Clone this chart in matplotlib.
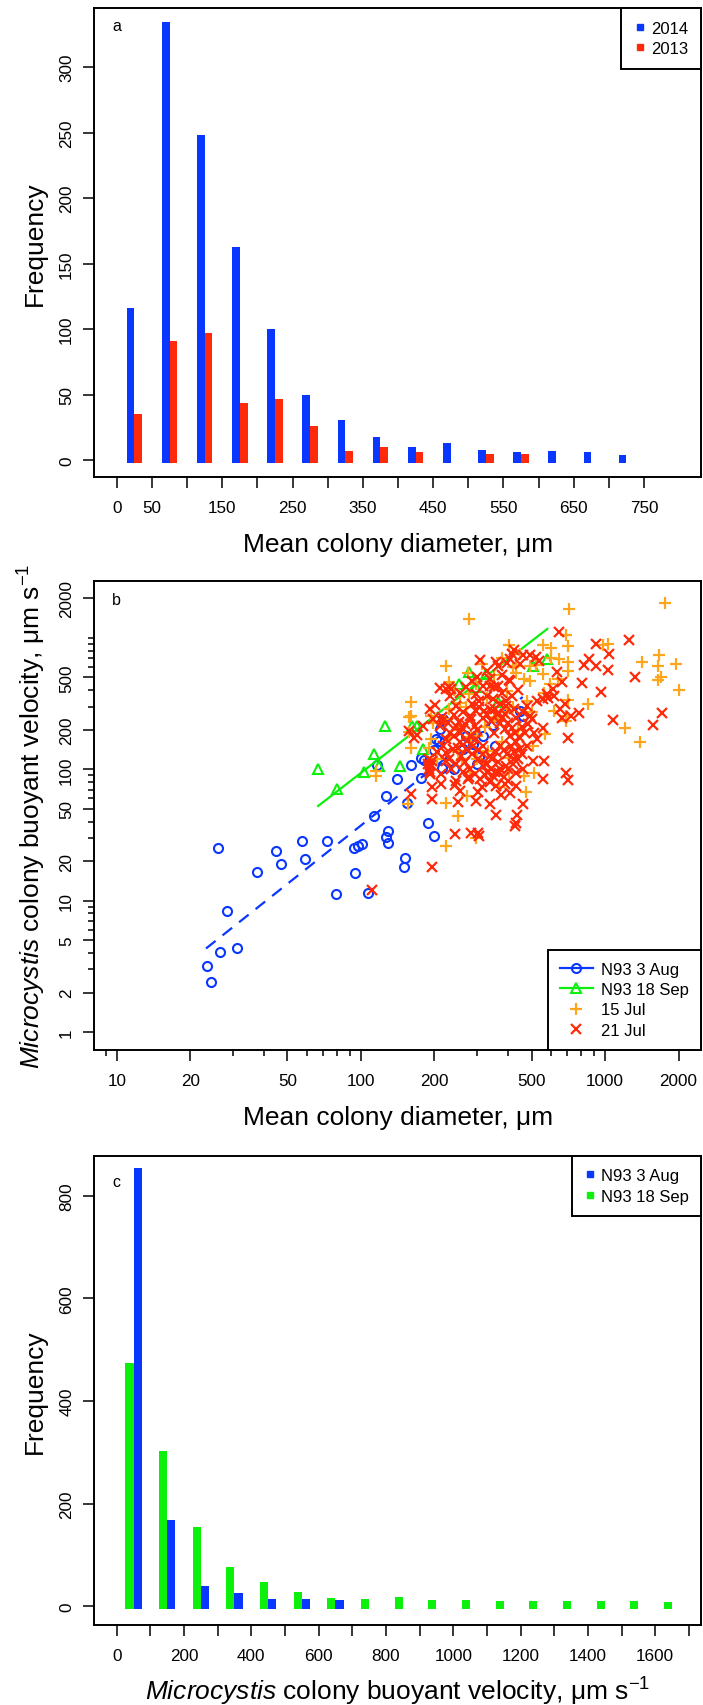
import matplotlib
matplotlib.use("Agg")
import matplotlib.pyplot as plt
from matplotlib.lines import Line2D
import numpy as np

plt.rcParams['font.family'] = ['Liberation Sans', 'DejaVu Sans']
plt.rcParams['mathtext.fontset'] = 'custom'
plt.rcParams['mathtext.rm'] = 'Liberation Sans'
plt.rcParams['mathtext.it'] = 'Liberation Sans:italic'
plt.rcParams['axes.linewidth'] = 1.4

BLUE = '#0a37ff'
RED = '#ff2a0a'
GREEN = '#0cf00c'
ORANGE = '#ffa51c'

# ---- panel a: colony diameter histogram (bins of 50 um)
diam_bins = [25, 75, 125, 175, 225, 275, 325, 375, 425, 475, 525, 575, 625, 675, 725]
n_2014 = [116, 334, 248, 163, 100, 50, 31, 18, 10, 13, 8, 6, 7, 6, 4]
n_2013 = [35, 91, 97, 44, 47, 26, 7, 10, 6, 0, 5, 5, 0, 0, 0]

# ---- panel b: buoyant velocity vs diameter
aug_d = [23.4, 24.4, 26, 26.5, 28.4, 31.2, 37.7, 45, 47, 57.6, 59, 72.5, 78.8, 94, 94.6, 97, 101,
         106.6, 113.6, 116, 127, 127, 129.5, 129.5, 140, 150, 152, 155, 161, 176, 177, 181, 187.5,
         200, 200, 203, 208, 210, 214, 216, 241, 263, 270, 287, 299, 306, 317, 346, 355, 448, 460]
aug_v = [3.2, 2.4, 25, 4.1, 8.3, 4.4, 16.5, 24, 19, 28.7, 20.8, 28.4, 11.3, 25, 16.4, 26, 27,
         11.5, 44.4, 108, 63, 30.5, 34, 27.5, 84, 18, 21, 55, 108, 123, 86, 118, 39,
         31, 141, 170, 165, 203, 103, 241, 100, 142, 180, 155, 110, 124, 180, 216, 151, 279, 255]

sep_d = [66.9, 79.6, 103.4, 113.6, 119, 125, 144, 162, 169, 179, 252, 276, 297, 324, 364, 508, 579]
sep_v = [100, 71, 95, 130, 106, 214, 106, 214, 214, 142, 444, 546, 420, 530, 326, 613, 689]

jul15_d = [277, 713, 1766, 224, 405, 557, 601, 689, 703, 646, 707, 703, 1031, 985, 1656, 1642,
           1415, 1945, 1650, 1690, 2010, 1205, 1386, 851, 689, 569, 505, 474, 465, 512, 405, 367,
           249, 224, 224, 295, 273, 249, 160, 160, 157, 160, 156, 115, 115, 193, 197, 229, 254,
           314, 323, 365, 397, 432, 491, 593, 501, 703, 689, 397, 277, 297, 405, 332, 282, 229,
           275, 338, 492, 558, 643, 194, 157, 430, 465,
           250, 300, 350, 420, 260, 380, 300, 440, 220, 330, 270, 480, 240, 600, 380, 450, 420,
           350, 520, 280, 205, 190, 620, 560, 230]
jul15_v = [1390, 1660, 1850, 611, 890, 890, 834, 1057, 861, 692, 650, 556, 900, 880, 736, 611,
           650, 630, 480, 500, 400, 206, 160, 313, 232, 187, 150, 67, 89, 94, 95, 73,
           44, 26, 55, 30, 63, 137, 327, 255, 193, 145, 54, 89, 97, 255, 225, 289, 317,
           630, 211, 232, 271, 539, 611, 447, 271, 337, 255, 394, 371, 447, 121, 137, 175, 175,
           545, 444, 471, 528, 486, 169, 250, 615, 487,
           200, 180, 250, 300, 120, 160, 120, 200, 240, 350, 300, 330, 400, 700, 700, 750, 600,
           520, 620, 95, 120, 145, 280, 380, 460]

jul21_d = [646, 1256, 919, 1039, 859, 823, 919, 1031, 1328, 966, 1074, 1575, 1713, 782, 703, 695,
           703, 562, 460, 432, 428, 357, 338, 301, 283, 305, 244, 195, 111, 160, 170, 195, 195,
           193, 191, 213, 254, 295, 301, 314, 321, 367, 388, 491, 512, 620, 586, 523, 491, 460,
           414, 423, 307, 365, 405, 229, 201, 214,
           802, 558, 434, 242, 210, 235, 407, 338,
           408, 359, 395, 448, 538, 634, 665, 614, 576, 558, 525, 655, 685, 728, 665, 477, 462,
           500, 433, 422, 394, 380, 364, 337, 317, 297, 306, 327, 348, 370, 284, 254, 224, 231,
           246, 263, 279, 297, 317, 337, 360, 370, 388, 408, 433, 448, 477, 558, 525, 422, 394,
           364, 337, 317, 297, 279, 263, 246, 231, 224, 217, 224, 238, 254, 270, 284, 301, 317,
           327, 348, 370, 401, 433, 462, 508, 433, 408, 375, 359, 337, 246, 195, 210, 191, 197,
           180, 158, 165, 250, 274, 279, 266, 257, 224, 235, 190, 192, 189, 190,
           215, 228, 240, 252, 268, 282, 292, 305, 318, 330, 342, 355, 368, 378, 390, 402, 415,
           428, 445, 455, 470, 485, 240, 255, 272, 288, 302, 315, 330, 345, 358, 372, 385, 398,
           410, 425, 440, 455, 230, 245, 262, 278, 292, 308, 325, 340, 355, 385, 400, 418, 205,
           212, 250, 298, 350, 392, 415, 440, 380, 330, 300, 270, 285, 350]
jul21_v = [1105, 957, 900, 760, 692, 623, 611, 574, 507, 390, 237, 218, 268, 268, 172, 94,
           83, 115, 54, 39, 37, 45, 54, 33, 33, 31, 32, 18, 12, 65, 181, 73, 59,
           108, 95, 77, 68, 57, 67, 73, 91, 94, 78, 255, 189, 359, 349, 714, 736, 736,
           760, 809, 683, 611, 476, 420, 307, 232,
           457, 84, 45, 76, 419, 407, 471, 434,
           690, 652, 640, 632, 671, 546, 458, 408, 373, 341, 331, 287, 313, 255, 247, 304, 271,
           240, 247, 287, 304, 384, 431, 487, 431, 373, 331, 364, 341, 313, 313, 384, 408, 364,
           304, 271, 255, 279, 247, 287, 263, 227, 202, 180, 160, 142, 151, 208, 170, 119, 106,
           113, 126, 151, 170, 180, 202, 214, 190, 170, 151, 134, 142, 160, 142, 130, 119, 106,
           96, 89, 100, 82, 94, 100, 116, 75, 66, 64, 75, 80, 82, 115, 214, 287, 240,
           214, 195, 172, 56, 84, 100, 113, 126, 116, 100, 100, 92, 110, 120,
           250, 225, 260, 230, 220, 240, 215, 300, 280, 260, 235, 290, 270, 245, 265, 225, 205,
           190, 175, 210, 190, 220, 180, 190, 165, 150, 140, 130, 110, 120, 135, 150, 140, 130,
           150, 135, 120, 130, 120, 110, 95, 88, 92, 85, 110, 100, 95, 88, 100, 110, 135,
           92, 145, 200, 190, 330, 360, 400, 520, 560, 500, 420, 470, 420]

# fitted lines (end points)
aug_fit_d = [23.2, 460]
aug_fit_v = [4.33, 355]
sep_fit_d = [66.8, 580]
sep_fit_v = [52.6, 1170]

# ---- panel c: buoyant velocity histogram (bins of 100)
vel_bins = [50, 150, 250, 350, 450, 550, 650, 750, 850, 950, 1050, 1150, 1250, 1350, 1450, 1550, 1650]
n_aug = [855, 169, 40, 26, 14, 14, 12, 0, 0, 0, 0, 0, 0, 0, 0, 0, 0]
n_sep = [474, 302, 154, 76, 47, 27, 16, 14, 18, 12, 12, 10, 11, 10, 10, 10, 9]

W, H = 703, 1706
fig = plt.figure(figsize=(W / 100, H / 100), dpi=100)


def box(l, r, t, b):
    return [l / W, 1 - b / H, (r - l) / W, (b - t) / H]


ax1 = fig.add_axes(box(94.3, 701, 9, 477.7))
ax2 = fig.add_axes(box(94.3, 701, 582, 1050.5))
ax3 = fig.add_axes(box(94.3, 701, 1156.7, 1625.7))

TICK_FS = 12.3
LAB_FS = 19
LEG_FS = 12

for ax in (ax1, ax2, ax3):
    ax.tick_params(axis='both', which='major', direction='out', length=8, width=1.1,
                   labelsize=TICK_FS, color='black')
    ax.tick_params(axis='x', which='major', pad=9)
    ax.tick_params(axis='y', which='major', pad=6.5, labelrotation=90)
    ax.tick_params(axis='both', which='minor', direction='out', length=4.5, width=1.1)

xlab_txt = 'Mean colony diameter, \u03bcm'
vel_txt = r'$\mathit{Microcystis}$ colony buoyant velocity, ' + '\u03bcm s' + r'$^{-1}$'


def legend(ax, handles, labels, loc, anchor, hl, htp, bp, ls):
    lg = ax.legend(handles, labels, loc=loc, bbox_to_anchor=anchor, borderaxespad=0,
                   fancybox=False, framealpha=1, edgecolor='black', fontsize=LEG_FS,
                   handlelength=hl, handletextpad=htp, borderpad=bp, labelspacing=ls)
    lg.get_frame().set_linewidth(1.4)
    return lg


# ---- panel a
x_a = np.array(diam_bins, dtype=float)
h14 = np.array(n_2014, dtype=float)
h13 = np.array(n_2013, dtype=float)
bw = 11
drop = 2
m14 = h14 > 0
m13 = h13 > 0
ax1.bar(x_a[m14] - bw / 2, h14[m14] + drop, bottom=-drop, width=bw, color=BLUE, linewidth=0)
ax1.bar(x_a[m13] + bw / 2, h13[m13] + drop, bottom=-drop, width=bw, color=RED, linewidth=0)
ax1.set_xlim(-32, 831)
ax1.set_ylim(-12.5, 345)
ax1.set_xticks(np.arange(0, 751, 50))
ax1.set_xticklabels(['0', '50', '', '150', '', '250', '', '350', '', '450', '', '550', '', '650', '', '750'])
ax1.set_yticks([0, 50, 100, 150, 200, 250, 300])
ax1.set_xlabel(xlab_txt, fontsize=LAB_FS, va='center')
ax1.xaxis.set_label_coords(0.5, -0.1436)
ax1.set_ylabel('Frequency', fontsize=LAB_FS, va='center')
ax1.yaxis.set_label_coords(-0.098, 0.5)
ax1.text(0, 332, 'a', fontsize=11.5, ha='center', va='center')
h_a = [Line2D([], [], ls='none', marker='s', ms=5, color=BLUE),
       Line2D([], [], ls='none', marker='s', ms=5, color=RED)]
legend(ax1, h_a, ['2014', '2013'], 'upper right', (1, 1), 0.7, 0.3, 0.78, 0.28)

# ---- panel b
ax2.set_xscale('log')
ax2.set_yscale('log')
ax2.plot(aug_d, aug_v, ls='none', marker='o', ms=6.5, mfc='none', mec=BLUE, mew=1.5)
ax2.plot(aug_fit_d, aug_fit_v, color=BLUE, lw=1.6, ls=(0, (5.5, 4)))
ax2.plot(sep_d, sep_v, ls='none', marker='^', ms=7.5, mfc='none', mec=GREEN, mew=1.5)
ax2.plot(sep_fit_d, sep_fit_v, color=GREEN, lw=1.6)
ax2.plot(jul15_d, jul15_v, ls='none', marker='+', ms=8.5, mec=ORANGE, mew=1.6)
ax2.plot(jul21_d, jul21_v, ls='none', marker='x', ms=6.5, mec=RED, mew=1.6)
ax2.set_xlim(10 ** (1 - 0.092), 10 ** (np.log10(2000) + 0.092))
ax2.set_ylim(10 ** (-0.132), 10 ** (np.log10(2000) + 0.132))
xt = [10, 20, 50, 100, 200, 500, 1000, 2000]
ax2.set_xticks(xt)
ax2.set_xticklabels([str(v) for v in xt])
ax2.set_xticks([9, 30, 40, 60, 70, 80, 90, 300, 400, 600, 700, 800, 900], minor=True)
yt = [1, 2, 5, 10, 20, 50, 100, 200, 500, 2000]
ax2.set_yticks(yt)
ax2.set_yticklabels([str(v) for v in yt])
ax2.set_yticks([3, 4, 6, 7, 8, 9, 30, 40, 60, 70, 80, 90, 300, 400, 600, 700, 800, 900, 1000],
               minor=True)
ax2.xaxis.set_minor_formatter(plt.NullFormatter())
ax2.yaxis.set_minor_formatter(plt.NullFormatter())
ax2.set_xlabel(xlab_txt, fontsize=LAB_FS, va='center')
ax2.xaxis.set_label_coords(0.5, -0.144)
ax2.set_ylabel(vel_txt, fontsize=LAB_FS, va='center')
ax2.yaxis.set_label_coords(-0.1035, 0.5)
ax2.text(10, 1950, 'b', fontsize=11.5, ha='center', va='center')
h_b = [Line2D([], [], color=BLUE, lw=1.6, marker='o', ms=6.5, mfc='none', mew=1.5),
       Line2D([], [], color=GREEN, lw=1.6, marker='^', ms=7.5, mfc='none', mew=1.5),
       Line2D([], [], ls='none', marker='+', ms=8.5, color=ORANGE, mew=1.6),
       Line2D([], [], ls='none', marker='x', ms=6.5, color=RED, mew=1.6)]
legend(ax2, h_b, ['N93 3 Aug', 'N93 18 Sep', '15 Jul', '21 Jul'], 'lower right', (1, 0),
       2.0, 0.5, 0.7, 0.32)

# ---- panel c
x_c = np.array(vel_bins, dtype=float)
ha_ = np.array(n_aug, dtype=float)
hs_ = np.array(n_sep, dtype=float)
bw = 24
drop = 6
ms_ = hs_ > 0
ma_ = ha_ > 0
ax3.bar(x_c[ms_] - bw / 2, hs_[ms_] + drop, bottom=-drop, width=bw, color=GREEN, linewidth=0)
ax3.bar(x_c[ma_] + bw / 2, ha_[ma_] + drop, bottom=-drop, width=bw, color=BLUE, linewidth=0)
ax3.set_xlim(-66.5, 1736)
ax3.set_ylim(-36, 878)
ax3.set_xticks(np.arange(0, 1701, 100))
ax3.set_xticklabels([str(v) if v % 200 == 0 and v <= 1600 else '' for v in range(0, 1701, 100)])
ax3.set_yticks([0, 200, 400, 600, 800])
ax3.set_xlabel(vel_txt, fontsize=LAB_FS, va='center')
ax3.xaxis.set_label_coords(0.5, -0.1407)
ax3.set_ylabel('Frequency', fontsize=LAB_FS, va='center')
ax3.yaxis.set_label_coords(-0.098, 0.5)
ax3.text(0, 827, 'c', fontsize=11.5, ha='center', va='center')
h_c = [Line2D([], [], ls='none', marker='s', ms=5, color=BLUE),
       Line2D([], [], ls='none', marker='s', ms=5, color=GREEN)]
legend(ax3, h_c, ['N93 3 Aug', 'N93 18 Sep'], 'upper right', (1, 1), 0.7, 0.3, 0.72, 0.38)

for ax in (ax1, ax2, ax3):
    for lab in ax.get_yticklabels():
        lab.set_va('center')

fig.savefig('out.png', dpi=100)
